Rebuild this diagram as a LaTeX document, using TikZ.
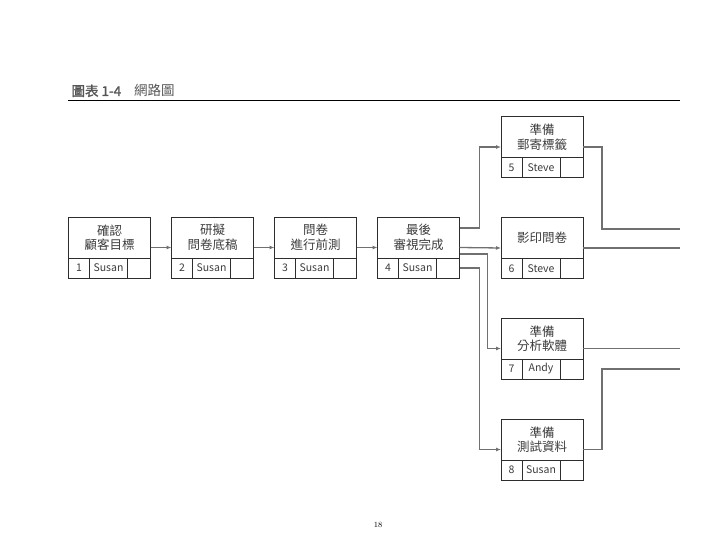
\documentclass[tikz,border=0pt]{standalone}
\usepackage{fontspec}
\newfontfamily\cjk{Noto Sans CJK TC}[AutoFakeBold=1.5]
\usepackage{tikz}
\usetikzlibrary{
  arrows.meta,
  positioning
}
\definecolor{boxline}{RGB}{45,45,45}
\definecolor{boxtext}{RGB}{60,60,60}
\definecolor{linkgray}{RGB}{112,112,112}
\definecolor{titlegray}{RGB}{85,85,85}

\begin{document}
\begin{tikzpicture}[x=1pt, y=-1pt,
            task/.style={rectangle, draw=boxline, line width=0.9pt, minimum width=82pt, minimum height=41pt, inner sep=0pt, outer sep=0pt, align=center, text=boxtext, font=\cjk\fontsize{12.5}{14.5}\selectfont},
            cell/.style={rectangle, draw=boxline, line width=0.9pt, minimum height=20pt, inner sep=0pt, outer sep=0pt, anchor=north west, text=boxtext, font=\cjk\fontsize{10.5}{12}\selectfont},
            numcell/.style={cell, minimum width=21pt},
            namecell/.style={cell, minimum width=38pt},
            blankcell/.style={cell, minimum width=23pt},
            link/.style={draw=linkgray, line width=1.3pt, -{Latex[length=5pt,width=4pt]}},
            exit/.style={draw=linkgray, line width=1.3pt}]
            \useasboundingbox (0,0) rectangle (720,540);
            % title
            \node [anchor=base west, text=titlegray, font=\cjk\fontsize{13.5}{13.5}\selectfont] (title) at (68,96) {\textbf{圖表 1-4}\hspace{13pt}網路圖};
            \draw [line width=1pt] (68,101) -- (680,101);
            % first row
            \node [task] (t1) at (109.5,237.5) {確認\\顧客目標};
            \node [task, right=21pt of t1] (t2) {研擬\\問卷底稿};
            \node [task, right=21pt of t2] (t3) {問卷\\進行前測};
            \node [task, right=21pt of t3] (t4) {最後\\審視完成};
            % right column
            \node [task] (t5) at (542,137) {準備\\郵寄標籤};
            \node [task] (t6) at (542,238) {影印問卷};
            \node [task] (t7) at (542,338.5) {準備\\分析軟體};
            \node [task] (t8) at (542,439.5) {準備\\測試資料};
            % bottom cells
            \node [numcell] (n1) at (t1.south west) {1};
            \node [namecell] (p1) at (n1.north east) {Susan};
            \node [blankcell] (b1) at (p1.north east) {};
            \node [numcell] (n2) at (t2.south west) {2};
            \node [namecell] (p2) at (n2.north east) {Susan};
            \node [blankcell] (b2) at (p2.north east) {};
            \node [numcell] (n3) at (t3.south west) {3};
            \node [namecell] (p3) at (n3.north east) {Susan};
            \node [blankcell] (b3) at (p3.north east) {};
            \node [numcell] (n4) at (t4.south west) {4};
            \node [namecell] (p4) at (n4.north east) {Susan};
            \node [blankcell] (b4) at (p4.north east) {};
            \node [numcell] (n5) at (t5.south west) {5};
            \node [namecell] (p5) at (n5.north east) {Steve};
            \node [blankcell] (b5) at (p5.north east) {};
            \node [numcell] (n6) at (t6.south west) {6};
            \node [namecell] (p6) at (n6.north east) {Steve};
            \node [blankcell] (b6) at (p6.north east) {};
            \node [numcell] (n7) at (t7.south west) {7};
            \node [namecell] (p7) at (n7.north east) {Andy};
            \node [blankcell] (b7) at (p7.north east) {};
            \node [numcell] (n8) at (t8.south west) {8};
            \node [namecell] (p8) at (n8.north east) {Susan};
            \node [blankcell] (b8) at (p8.north east) {};
            % free ends at the right margin
            \coordinate (e5) at (680,229);
            \coordinate (e6) at (680,248);
            \coordinate (e7) at (680,348.5);
            \coordinate (e8) at (680,369);
            % connectors
            \draw [link] ([yshift=-10pt]t1.east) -- ([yshift=-10pt]t2.west);
            \draw [link] ([yshift=-10pt]t2.east) -- ([yshift=-10pt]t3.west);
            \draw [link] ([yshift=-10pt]t3.east) -- ([yshift=-10pt]t4.west);
            \draw [link] ([yshift=9.5pt]t4.east) -- ++(20,0) |- ([yshift=-10pt]t5.west);
            \draw [link] ([yshift=-10pt]t4.east) -- ([yshift=-10pt]t6.west);
            \draw [link] ([yshift=-16.5pt]t4.east) -- ++(28,0) |- ([yshift=-10pt]t7.west);
            \draw [link] (b4.east) -- ++(20,0) |- ([yshift=-10pt]t8.west);
            \draw [exit] ([yshift=-10pt]t5.east) -- ++(19,0) |- (e5);
            \draw [exit] ([yshift=-10pt]t6.east) -- (e6);
            \draw [exit] ([yshift=-10pt]t7.east) -- (e7);
            \draw [exit] ([yshift=-10pt]t8.east) -- ++(19,0) |- (e8);
            % page number
            \node [font=\fontsize{8}{8}\selectfont] (page) at (378,525) {18};
        \end{tikzpicture}
\end{document}
